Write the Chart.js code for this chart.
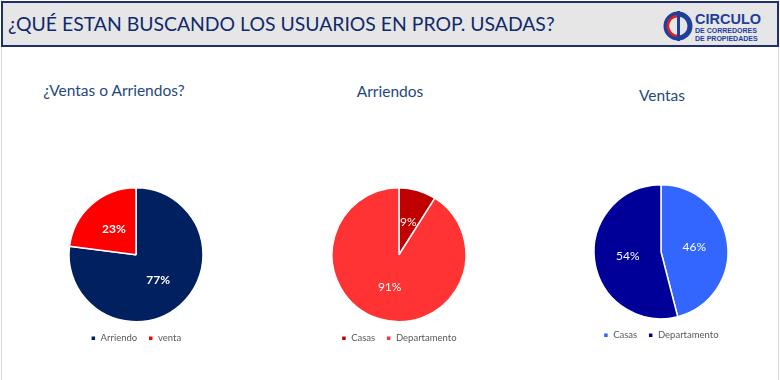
<!DOCTYPE html>
<html>
<head>
<meta charset="utf-8">
<script src="https://cdn.jsdelivr.net/npm/chart.js@4.4.0/dist/chart.umd.min.js"></script>
<style>
	html, body { margin: 0; padding: 0; background: #fff; }
	body { width: 780px; height: 380px; position: relative; overflow: hidden; font-family: Lato, "Open Sans", sans-serif; }
	#frame { position: absolute; left: 1px; top: 0; width: 776px; height: 380px; border-left: 1px solid #d9d9d9; border-right: 1px solid #d9d9d9; }
	#header { position: absolute; left: 1px; top: 1px; width: 774px; height: 42px; background: #e7e6e6; border: 2px solid #1f2f6b; }
	#header h1 { margin: 0; position: absolute; left: 5px; top: 9px; font-size: 19.4px; font-weight: normal; color: #0f2a6e; white-space: nowrap; }
	#logo { position: absolute; left: 660px; top: 4px; }
	.ttl { position: absolute; font-size: 15.5px; color: #1f497d; white-space: nowrap; transform: translate(-50%, -50%); }
	canvas { position: absolute; }
</style>
</head>
<body>
<div id="frame"></div>
<div id="header">
	<h1>¿QUÉ ESTAN BUSCANDO LOS USUARIOS EN PROP. USADAS?</h1>
	<svg id="logo" width="112" height="38" viewBox="0 0 112 38">
		<circle cx="15" cy="19" r="12" fill="none" stroke="#1f3f9c" stroke-width="5" />
		<path d="M15 9 A10 10 0 0 0 15 29" fill="none" stroke="#e02020" stroke-width="2.5" />
		<rect x="14" y="4" width="3" height="30" fill="#1f3f9c" />
		<text x="32" y="17" font-family="Liberation Sans, Arial" font-weight="bold" font-size="14.5" fill="#1f3f9c">CIRCULO</text>
		<text x="32" y="26" font-family="Liberation Sans, Arial" font-weight="bold" font-size="7" fill="#1f3f9c">DE CORREDORES</text>
		<text x="32" y="34" font-family="Liberation Sans, Arial" font-weight="bold" font-size="7" fill="#1f3f9c">DE PROPIEDADES</text>
	</svg>
</div>

<div class="ttl" style="left:114px; top:90px;">¿Ventas o Arriendos?</div>
<div class="ttl" style="left:390px; top:91px;">Arriendos</div>
<div class="ttl" style="left:662px; top:95px;">Ventas</div>

<canvas id="pie1" width="220" height="166" style="left:26px; top:187px;"></canvas>
<canvas id="pie2" width="220" height="166" style="left:289px; top:187px;"></canvas>
<canvas id="pie3" width="220" height="166" style="left:551px; top:184px;"></canvas>

<script>
// data
var tipoLabels = ['Arriendo', 'venta'];
var tipoValues = [77, 23];
var arriendoLabels = ['Casas', 'Departamento'];
var arriendoValues = [9, 91];
var ventaLabels = ['Casas', 'Departamento'];
var ventaValues = [46, 54];

// white percentage labels inside slices
var sliceLabels = {
	id: 'sliceLabels',
	afterDatasetsDraw: function(chart) {
		var ctx = chart.ctx;
		var ds = chart.data.datasets[0];
		var bold = chart.options.plugins.sliceLabels.bold;
		chart.getDatasetMeta(0).data.forEach(function(arc, i) {
			var pos = arc.tooltipPosition();
			ctx.save();
			ctx.fillStyle = '#ffffff';
			ctx.font = (bold ? 'bold ' : '') + '12px Lato, "Open Sans", sans-serif';
			ctx.textAlign = 'center';
			ctx.textBaseline = 'middle';
			ctx.fillText(ds.data[i] + '%', pos.x, pos.y);
			ctx.restore();
		});
	}
};

function makePie(id, labels, values, colors, bold) {
	var ctx = document.getElementById(id).getContext('2d');
	return new Chart(ctx, {
		type: 'pie',
		data: {
			labels: labels,
			datasets: [{
				data: values,
				backgroundColor: colors,
				borderColor: '#ffffff',
				borderWidth: 1.5
			}]
		},
		options: {
			responsive: false,
			animation: false,
			layout: { padding: 0 },
			plugins: {
				legend: {
					position: 'bottom',
					labels: {
						boxWidth: 5,
						boxHeight: 5,
						padding: 11,
						color: '#595959',
						font: { size: 9.5, family: 'Lato, "Open Sans", sans-serif' }
					}
				},
				tooltip: { enabled: false },
				sliceLabels: { bold: bold }
			}
		},
		plugins: [sliceLabels]
	});
}

makePie('pie1', tipoLabels, tipoValues, ['#002060', '#ff0000'], true);
makePie('pie2', arriendoLabels, arriendoValues, ['#c00000', '#ff3333'], false);
makePie('pie3', ventaLabels, ventaValues, ['#3366ff', '#000099'], false);
</script>
</body>
</html>
